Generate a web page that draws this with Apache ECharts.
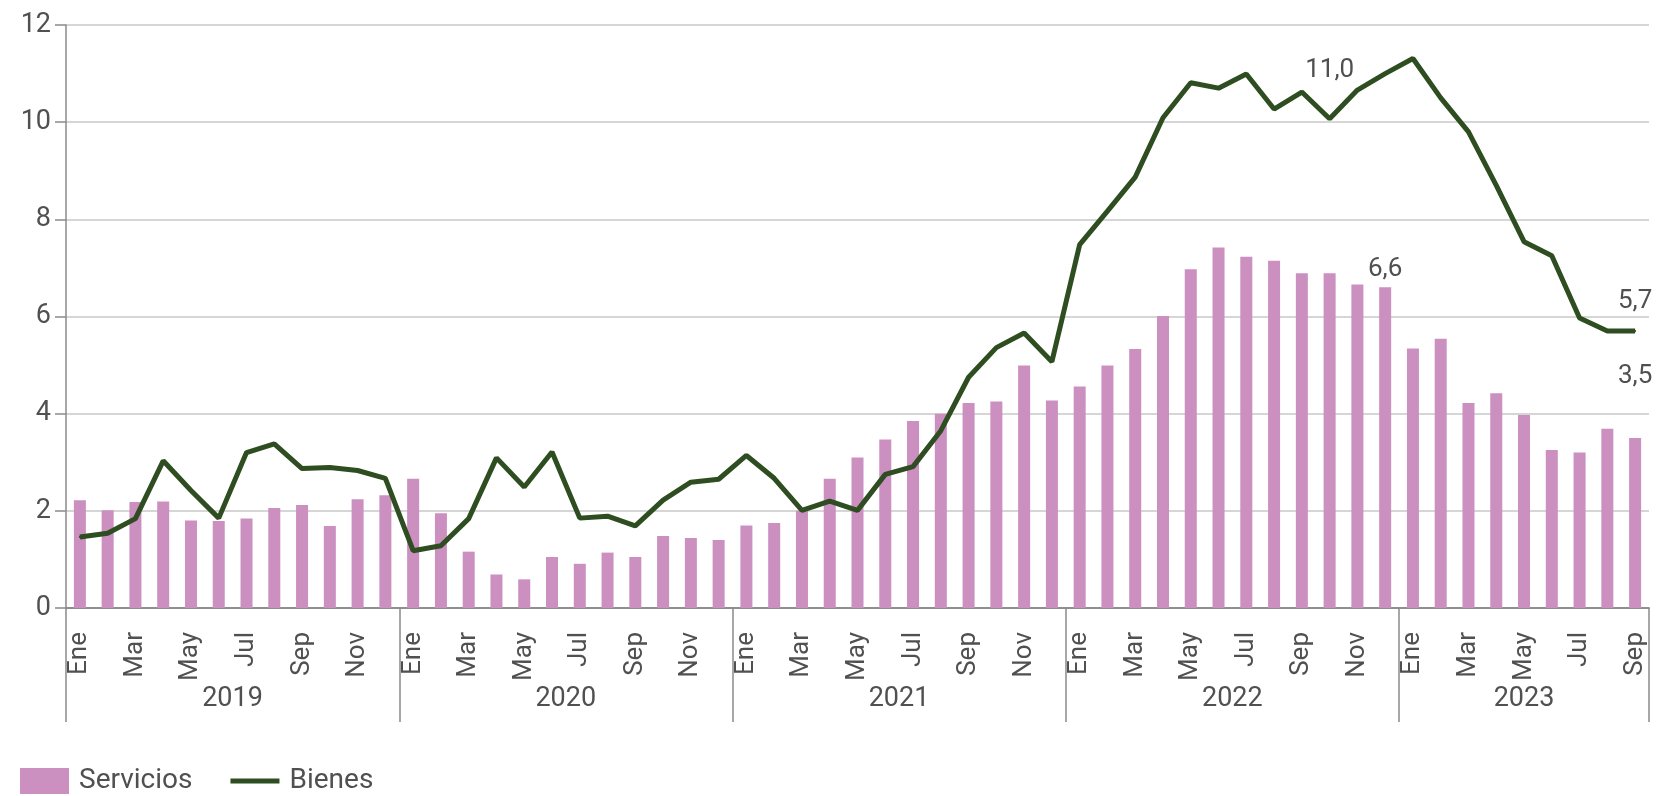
<!DOCTYPE html>
<html>
<head>
<meta charset="utf-8">
<script src="https://cdn.jsdelivr.net/npm/echarts@6/dist/echarts.min.js"></script>
<style>
html, body { margin: 0; padding: 0; background: #fff; }
#main { width: 1661px; height: 796px; }
</style>
</head>
<body>
<div id="main"></div>
<script>
// datos
const months = ['Ene', 'Feb', 'Mar', 'Abr', 'May', 'Jun', 'Jul', 'Ago', 'Sep', 'Oct', 'Nov', 'Dic'];
const years = ['2019', '2020', '2021', '2022', '2023'];
const monthsPerYear = [12, 12, 12, 12, 9];
const yTicks = [0, 2, 4, 6, 8, 10, 12];
const servicios = [
    2.22, 2.01, 2.18, 2.19, 1.80, 1.79, 1.84, 2.06, 2.12, 1.69, 2.24, 2.32,
    2.66, 1.95, 1.16, 0.69, 0.59, 1.05, 0.91, 1.14, 1.05, 1.48, 1.44, 1.40,
    1.70, 1.75, 2.00, 2.66, 3.10, 3.47, 3.85, 4.00, 4.22, 4.25, 4.99, 4.27,
    4.56, 4.99, 5.33, 6.01, 6.97, 7.42, 7.23, 7.15, 6.89, 6.89, 6.66, 6.6,
    5.34, 5.54, 4.22, 4.42, 3.97, 3.25, 3.20, 3.69, 3.5
];
const bienes = [
    1.46, 1.54, 1.84, 3.03, 2.42, 1.85, 3.20, 3.38, 2.87, 2.89, 2.83, 2.67,
    1.18, 1.28, 1.84, 3.09, 2.49, 3.21, 1.85, 1.89, 1.69, 2.22, 2.59, 2.65,
    3.14, 2.67, 2.01, 2.20, 2.01, 2.75, 2.91, 3.65, 4.75, 5.36, 5.66, 5.07,
    7.48, 8.17, 8.87, 10.09, 10.81, 10.70, 10.99, 10.27, 10.62, 10.07, 10.66, 11.0,
    11.31, 10.50, 9.80, 8.70, 7.54, 7.25, 5.97, 5.7, 5.7
];
// puntos con etiqueta: dic 2022 y el ultimo dato
const decIdx = 47;
const lastIdx = 56;

const FONT = 'Roboto, sans-serif';
const TXT = '#505050';
const AXIS = '#8a8a8a';

// categorias mensuales y posicion del rotulo de cada año
const categories = [];
const monthOf = [];
const yearLabel = {};
years.forEach((y, i) => {
    const start = categories.length;
    for (let m = 0; m < monthsPerYear[i]; m++) {
        categories.push(months[m] + ' ' + y);
        monthOf.push(m);
    }
    const n = monthsPerYear[i];
    // años completos: el centro cae entre dos meses -> se corre medio mes
    yearLabel[start + Math.floor(n / 2)] = { text: y, shift: n % 2 === 0 };
});

const fmt = (v) => v.toFixed(1).replace('.', ',');

let chartDom = document.getElementById('main');
let myChart = echarts.init(chartDom);

const getOption = () => {
    return {
        animation: false,
        textStyle: { fontFamily: FONT },
        grid: { left: 66, right: 12, top: 25, bottom: 188 },
        legend: {
            left: 15,
            top: 762,
            itemWidth: 49,
            itemHeight: 26,
            itemGap: 38,
            textStyle: { fontSize: 28, color: TXT, fontFamily: FONT, padding: [0, 0, 0, 5] },
            data: [
                { name: 'Servicios', icon: 'rect' },
                { name: 'Bienes', icon: 'path://M0,0H100V10H0Z' }
            ]
        },
        xAxis: [
            {
                type: 'category',
                data: categories,
                boundaryGap: true,
                axisLine: { lineStyle: { color: AXIS, width: 1.5 } },
                axisTick: { interval: 0, length: 10, lineStyle: { color: AXIS, width: 1.5 } },
                axisLabel: {
                    interval: 1,
                    rotate: 90,
                    margin: 24,
                    fontSize: 26,
                    color: TXT,
                    fontFamily: FONT,
                    formatter: (v) => v.split(' ')[0]
                }
            },
            {
                // eje de años: separadores largos y rotulo centrado
                type: 'category',
                data: categories,
                position: 'bottom',
                boundaryGap: true,
                axisLine: { show: true, lineStyle: { color: AXIS, width: 1.5 } },
                axisTick: {
                    show: true,
                    interval: (i) => monthOf[i] === 0,
                    length: 114,
                    lineStyle: { color: AXIS, width: 1.5 }
                },
                axisLabel: {
                    interval: (i) => !!yearLabel[i],
                    margin: 78,
                    formatter: (v, i) => {
                        const yl = yearLabel[i];
                        if (!yl) return '';
                        return yl.shift ? '{s|' + yl.text + '}' : '{n|' + yl.text + '}';
                    },
                    rich: {
                        s: { fontSize: 27, color: TXT, fontFamily: FONT, padding: [0, 28, 0, 0] },
                        n: { fontSize: 27, color: TXT, fontFamily: FONT }
                    }
                },
                splitLine: { show: false }
            }
        ],
        yAxis: {
            type: 'value',
            min: yTicks[0],
            max: yTicks[yTicks.length - 1],
            interval: 2,
            axisLine: { show: true, lineStyle: { color: AXIS, width: 1.5 } },
            axisTick: { show: true, length: 11, lineStyle: { color: AXIS, width: 1.5 } },
            axisLabel: { fontSize: 27, color: TXT, margin: 15, fontFamily: FONT },
            splitLine: { lineStyle: { color: '#c8c8c8', width: 1.5 } }
        },
        series: [
            {
                name: 'Servicios',
                type: 'bar',
                barWidth: 12,
                itemStyle: { color: '#cb8fc0' },
                label: {
                    fontSize: 26,
                    color: TXT,
                    fontFamily: FONT,
                    formatter: (p) => fmt(p.value)
                },
                data: servicios.map((v, i) => {
                    if (i === decIdx) return { value: v, label: { show: true, position: 'top', distance: 5 } };
                    if (i === lastIdx) return { value: v, label: { show: true, position: 'top', distance: 48 } };
                    return v;
                })
            },
            {
                name: 'Bienes',
                type: 'line',
                symbol: 'circle',
                symbolSize: 2,
                lineStyle: { color: '#2e4d20', width: 5 },
                itemStyle: { color: '#2e4d20' },
                z: 3,
                label: {
                    fontSize: 26,
                    color: TXT,
                    fontFamily: FONT,
                    formatter: (p) => fmt(p.value)
                },
                data: bienes.map((v, i) => {
                    if (i === decIdx) return { value: v, label: { show: true, position: 'left', distance: 30, offset: [0, -3] } };
                    if (i === lastIdx) return { value: v, label: { show: true, position: 'top', distance: 16 } };
                    return v;
                })
            }
        ]
    };
};

let option = getOption();
option && myChart.setOption(option);
</script>
</body>
</html>
